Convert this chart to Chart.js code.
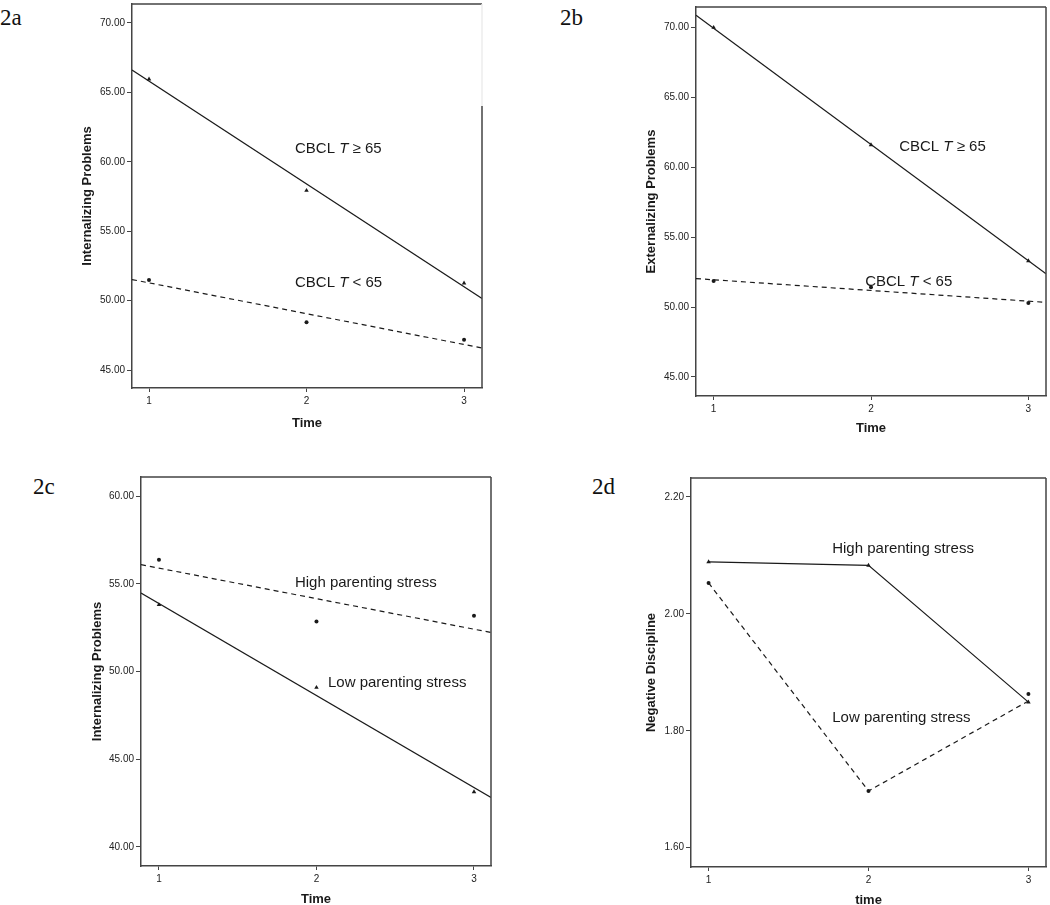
<!DOCTYPE html>
<html>
<head>
<meta charset="utf-8">
<script src="https://cdn.jsdelivr.net/npm/chart.js@4.4.1/dist/chart.umd.min.js"></script>
<style>
body{margin:0;background:#fff;width:1050px;height:905px;overflow:hidden;position:relative;}
.panel{position:absolute;}
.tag{position:absolute;font-family:"Liberation Serif","DejaVu Serif",serif;font-size:23px;line-height:22px;color:#111;}
</style>
</head>
<body>
<div class="tag" style="left:0;top:7px">2a</div>
<div class="tag" style="left:560px;top:7px">2b</div>
<div class="tag" style="left:33px;top:476px">2c</div>
<div class="tag" style="left:592px;top:476px">2d</div>

<div class="panel" style="left:80px;top:0;"><canvas id="chartA" width="410" height="431"></canvas></div>
<div class="panel" style="left:644px;top:0;"><canvas id="chartB" width="406" height="436"></canvas></div>
<div class="panel" style="left:90px;top:460px;"><canvas id="chartC" width="410" height="447"></canvas></div>
<div class="panel" style="left:644px;top:460px;"><canvas id="chartD" width="406" height="448"></canvas></div>

<script>
// Shared
const timePoints = [1, 2, 3];
const xTicks = [1, 2, 3];

// 2a internalizing, CBCL groups (regression lines read at the plot edges)
const rangeXA = [0.892, 3.114];
const rangeYA = [43.71, 71.36];
const ticksYA = [45, 50, 55, 60, 65, 70];
const clinicalA = [65.95, 57.93, 51.26];
const normalA = [51.48, 48.45, 47.19];
const clinicalFitA = [66.6, 50.16];
const normalFitA = [51.52, 46.59];

// 2b externalizing, CBCL groups
const rangeXB = [0.888, 3.112];
const rangeYB = [43.64, 71.47];
const ticksYB = [45, 50, 55, 60, 65, 70];
const clinicalB = [70.0, 61.6, 53.31];
const normalB = [51.87, 51.42, 50.29];
const clinicalFitB = [70.88, 52.38];
const normalFitB = [52.04, 50.34];

// 2c internalizing, parenting stress groups
const rangeXC = [0.886, 3.108];
const rangeYC = [38.91, 61.1];
const ticksYC = [40, 45, 50, 55, 60];
const highStressC = [56.38, 52.86, 53.18];
const lowStressC = [53.81, 49.09, 43.14];
const highFitC = [56.1, 52.23];
const lowFitC = [54.48, 42.82];

// 2d negative discipline, parenting stress groups
const rangeXD = [0.89, 3.11];
const rangeYD = [1.567, 2.2325];
const ticksYD = [1.6, 1.8, 2.0, 2.2];
const highStressD = [2.089, 2.083, 1.849];
const lowStressLineD = [2.053, 1.697, 1.851];
const lowStressD = [2.053, 1.697, 1.863];

const ink = '#1a1a1a';
const family = '"Liberation Sans", Arial, sans-serif';
Chart.defaults.font.family = family;

const pts = (ys, xs = timePoints) => ys.map((y, i) => ({x: xs[i], y}));

function markers(ys, style){
  return {
    data: pts(ys), showLine: false, pointStyle: style,
    pointRadius: style === 'triangle' ? 2.6 : 2,
    pointBackgroundColor: ink, pointBorderColor: ink, pointBorderWidth: 0
  };
}
function line(ys, xs, dashed){
  return {
    data: pts(ys, xs), showLine: true, pointRadius: 0,
    borderColor: ink, borderWidth: 1.2, borderDash: dashed ? [5, 4] : [], fill: false
  };
}

// Top and right edges of the frame
function framePlugin(gap){
  return {
    id: 'frame',
    afterDraw(chart){
      const {ctx, chartArea: a} = chart;
      ctx.save();
      ctx.lineWidth = 1.5;
      ctx.strokeStyle = '#444';
      ctx.beginPath();
      ctx.moveTo(a.left, a.top); ctx.lineTo(a.right, a.top);
      ctx.moveTo(a.right, a.top + gap); ctx.lineTo(a.right, a.bottom);
      ctx.stroke();
      if(gap){
        ctx.strokeStyle = '#ececec';
        ctx.beginPath(); ctx.moveTo(a.right, a.top); ctx.lineTo(a.right, a.top + gap); ctx.stroke();
      }
      ctx.restore();
    }
  };
}

// Group labels, with italic parts
function notesPlugin(items){
  return {
    id: 'notes',
    afterDatasetsDraw(chart){
      const {ctx, scales: {x, y}} = chart;
      ctx.save();
      ctx.fillStyle = ink;
      ctx.textBaseline = 'middle';
      items.forEach(n => {
        let px = x.getPixelForValue(n.x);
        const py = y.getPixelForValue(n.y);
        n.parts.forEach(([txt, italic]) => {
          ctx.font = (italic ? 'italic ' : '') + '15px ' + family;
          ctx.fillText(txt, px, py);
          px += ctx.measureText(txt).width;
        });
      });
      ctx.restore();
    }
  };
}

function makePanel(id, p){
  new Chart(document.getElementById(id), {
    type: 'scatter',
    data: {datasets: p.datasets},
    options: {
      responsive: false, animation: false, events: [],
      layout: {padding: {top: p.padTop, right: p.padRight, left: 0, bottom: 0}},
      plugins: {legend: {display: false}, tooltip: {enabled: false}},
      scales: {
        x: {
          type: 'linear', min: p.rangeX[0], max: p.rangeX[1],
          afterBuildTicks: s => { s.ticks = xTicks.map(v => ({value: v})); },
          afterFit: s => { s.height = p.xHeight; s.paddingLeft = 0; s.paddingRight = 0; },
          ticks: {font: {size: 10}, color: '#222', padding: 3, autoSkip: false, maxRotation: 0, callback: v => String(v)},
          grid: {drawOnChartArea: false, drawTicks: true, tickLength: 4, color: '#444'},
          border: {color: '#444', width: 1.5},
          title: {display: true, text: p.xTitle, font: {size: 13, weight: 'bold'}, color: ink, padding: 0}
        },
        y: {
          type: 'linear', min: p.rangeY[0], max: p.rangeY[1],
          afterBuildTicks: s => { s.ticks = p.ticksY.map(v => ({value: v})); },
          afterFit: s => { s.width = p.yWidth; s.paddingTop = 0; s.paddingBottom = 0; },
          ticks: {font: {size: 10}, color: '#222', padding: 2, autoSkip: false, callback: v => Number(v).toFixed(2)},
          grid: {drawOnChartArea: false, drawTicks: true, tickLength: 5, color: '#444'},
          border: {color: '#444', width: 1.5},
          title: {display: true, text: p.yTitle, font: {size: 13, weight: 'bold'}, color: ink, padding: 0}
        }
      }
    },
    plugins: [framePlugin(p.gap || 0), notesPlugin(p.notes)]
  });
}

const geq = [['CBCL ', false], ['T', true], [' \u2265 65', false]];
const lt = [['CBCL ', false], ['T', true], [' < 65', false]];

makePanel('chartA', {
  rangeX: rangeXA, rangeY: rangeYA, ticksY: ticksYA,
  padTop: 1, padRight: 8, yWidth: 52, xHeight: 43, gap: 102,
  xTitle: 'Time', yTitle: 'Internalizing Problems',
  datasets: [
    markers(clinicalA, 'triangle'), markers(normalA, 'circle'),
    line(clinicalFitA, rangeXA, false), line(normalFitA, rangeXA, true)
  ],
  notes: [{x: 1.927, y: 60.93, parts: geq}, {x: 1.927, y: 51.29, parts: lt}]
});

makePanel('chartB', {
  rangeX: rangeXB, rangeY: rangeYB, ticksY: ticksYB,
  padTop: 7, padRight: 4, yWidth: 52, xHeight: 40,
  xTitle: 'Time', yTitle: 'Externalizing Problems',
  datasets: [
    markers(clinicalB, 'triangle'), markers(normalB, 'circle'),
    line(clinicalFitB, rangeXB, false), line(normalFitB, rangeXB, true)
  ],
  notes: [{x: 2.179, y: 61.45, parts: geq}, {x: 1.963, y: 51.81, parts: lt}]
});

makePanel('chartC', {
  rangeX: rangeXC, rangeY: rangeYC, ticksY: ticksYC,
  padTop: 17, padRight: 9, yWidth: 51, xHeight: 41,
  xTitle: 'Time', yTitle: 'Internalizing Problems',
  datasets: [
    markers(highStressC, 'circle'), markers(lowStressC, 'triangle'),
    line(highFitC, rangeXC, true), line(lowFitC, rangeXC, false)
  ],
  notes: [
    {x: 1.863, y: 55.07, parts: [['High parenting stress', false]]},
    {x: 2.073, y: 49.35, parts: [['Low parenting stress', false]]}
  ]
});

makePanel('chartD', {
  rangeX: rangeXD, rangeY: rangeYD, ticksY: ticksYD,
  padTop: 18, padRight: 3, yWidth: 47, xHeight: 41,
  xTitle: 'time', yTitle: 'Negative Discipline',
  datasets: [
    markers(highStressD, 'triangle'), markers(lowStressD, 'circle'),
    line(highStressD, timePoints, false), line(lowStressLineD, timePoints, true)
  ],
  notes: [
    {x: 1.773, y: 2.111, parts: [['High parenting stress', false]]},
    {x: 1.773, y: 1.823, parts: [['Low parenting stress', false]]}
  ]
});
</script>
</body>
</html>
